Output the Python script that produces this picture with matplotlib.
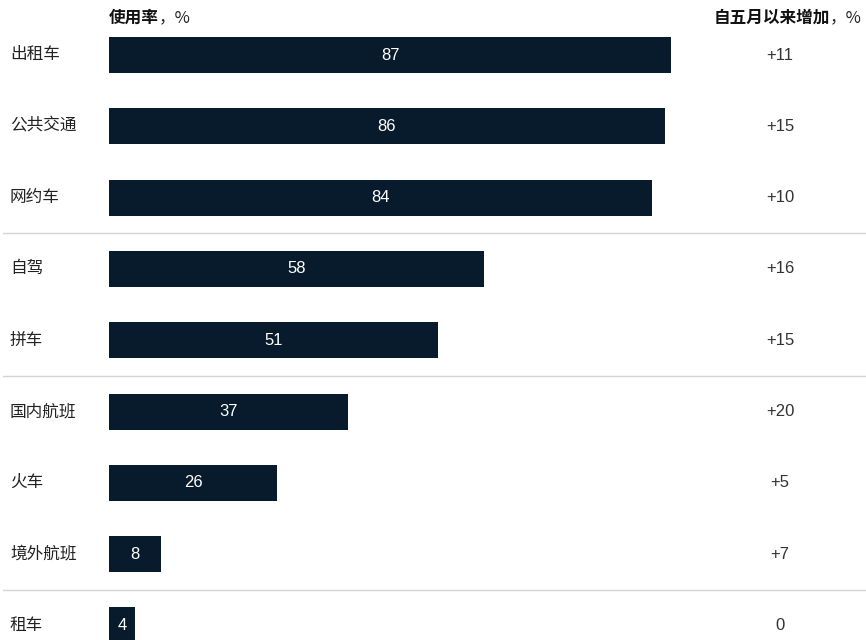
import matplotlib
matplotlib.use('Agg')
import matplotlib.pyplot as plt
import matplotlib.transforms as mtransforms

plt.rcParams['font.family'] = ['Liberation Sans', 'Noto Sans CJK SC', 'DejaVu Sans']

# 各出行方式使用率及自五月以来的增幅
categories = ['出租车', '公共交通', '网约车', '自驾', '拼车', '国内航班', '火车', '境外航班', '租车']
usage = [87, 86, 84, 58, 51, 37, 26, 8, 4]
increase = ['+11', '+15', '+10', '+16', '+15', '+20', '+5', '+7', '0']
# 分组线画在这些行之后
group_breaks = [2, 4, 7]

bar_color = '#081b2c'
cjk = ['Noto Sans CJK SC', 'DejaVu Sans']

fig = plt.figure(figsize=(8.66, 6.4), dpi=100)
W, H = 866, 640
row_h = 71.3
top_c = 55

ax = fig.add_axes([109 / W, 0, 646 / W, 1])
ax.set_xlim(0, 100)
ax.set_ylim((H - top_c) / row_h, -top_c / row_h)
ax.axis('off')

ys = list(range(len(categories)))
ax.barh(ys, usage, height=36 / row_h, color=bar_color)

for y, v in zip(ys, usage):
    ax.text(v / 2, y, str(v), color='white', ha='center', va='center', fontsize=12)

# 左侧类别和右侧增幅用图形坐标定位
trans = mtransforms.blended_transform_factory(fig.transFigure, ax.transData)
for y, name, inc in zip(ys, categories, increase):
    fig.text(10 / W, y, name, transform=trans, ha='left', va='center',
             fontsize=12, family=cjk, color='#222222')
    fig.text(780 / W, y, inc, transform=trans, ha='center', va='center',
             fontsize=12, color='#333333')

for b in group_breaks:
    yb = b + 0.5
    fig.add_artist(plt.Line2D([3 / W, 1], [yb, yb], transform=trans,
                              color='#d4d4d4', linewidth=1))

# 表头
t1 = fig.text(109 / W, 1 - 18 / H, '使用率', ha='left', va='center',
              fontsize=12, fontweight='bold', family=cjk, color='#111111')
ax.annotate('，%', xy=(1, 0.5), xycoords=t1, ha='left', va='center',
            fontsize=12, family=cjk, color='#222222')

t2 = fig.text(862 / W, 1 - 18 / H, '，%', ha='right', va='center',
              fontsize=12, family=cjk, color='#222222')
ax.annotate('自五月以来增加', xy=(0, 0.5), xycoords=t2, ha='right', va='center',
            fontsize=12, fontweight='bold', family=cjk, color='#111111')

fig.savefig('out.png', dpi=100)
